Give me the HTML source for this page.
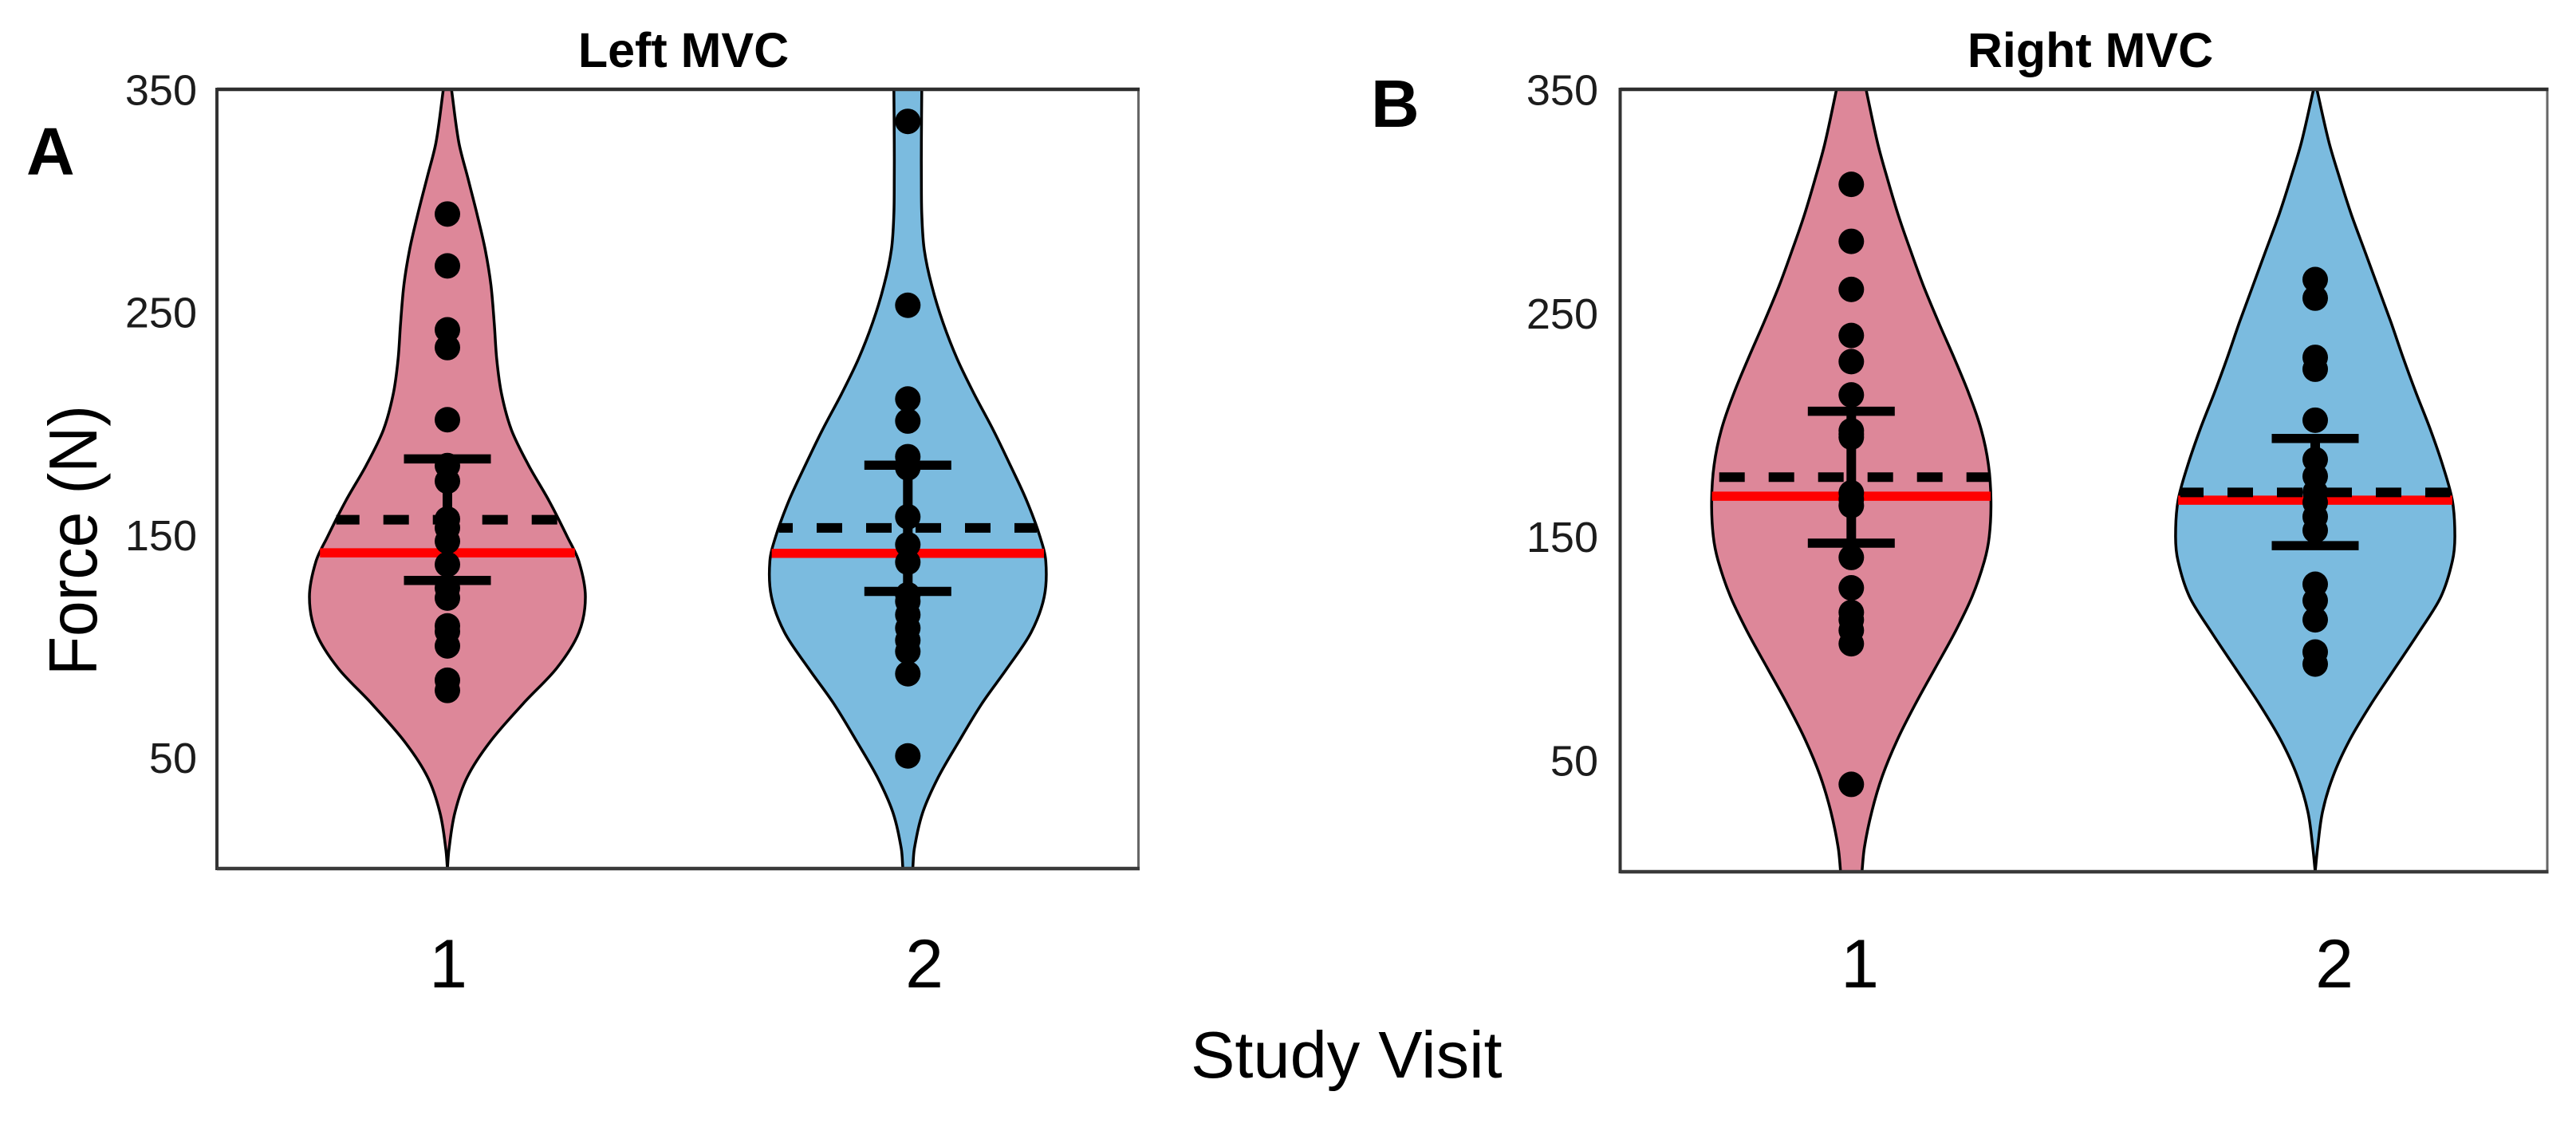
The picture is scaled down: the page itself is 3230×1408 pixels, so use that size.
<!DOCTYPE html>
<html lang="en">
<head>
<meta charset="utf-8">
<title>Left and Right MVC violin plots</title>
<style>
html,body{margin:0;padding:0;background:#fff;width:3230px;height:1408px;overflow:hidden}
svg{display:block}
text{font-family:"Liberation Sans",Arial,sans-serif;fill:#000}
</style>
</head>
<body>
<svg id="chart" width="3230" height="1408" viewBox="0 0 3230 1408" xmlns="http://www.w3.org/2000/svg">
<rect x="0" y="0" width="3230" height="1408" fill="#ffffff"/>
<text x="857" y="84" font-size="61" font-weight="bold" text-anchor="middle">Left MVC</text>
<text x="2621" y="84" font-size="61" font-weight="bold" text-anchor="middle">Right MVC</text>
<text x="33" y="219" font-size="84" font-weight="bold">A</text>
<text x="1719" y="159" font-size="84" font-weight="bold">B</text>
<text transform="translate(121 847) rotate(-90)" x="0" y="0" font-size="85" textLength="339" lengthAdjust="spacingAndGlyphs">Force (N)</text>
<text x="1493" y="1351" font-size="83">Study Visit</text>
</svg>
<script>
// Axis ticks and categories
const yTicks = [50, 150, 250, 350];
const visitLabels = ["1", "2"];

// Force levels (N) at which each violin's density was read
const leftForceGrid = [350,326,310,294,278,262,245,229,213,197,181,165,149,138,122,106,90,74,57,41,25,9,0];
const rightForceGrid = [350,326,310,294,278,262,246,230,214,198,182,166,150,139,123,107,91,75,59,43,27,11,0];

// Relative density (half-width) per visit
const leftVisit1Density = [5,14,25,36,46,53,57,60,66,78,99,124,146,160,168,160,133,92,52,24,9,2,0];
const leftVisit2Density = [17,16.5,16.5,17,20,29,43,60,81,104,125,145,161,168,166,150,121,90,62,37,18,8,6];
const rightVisit1Density = [18,32,44,57,72,88,106,125,143,158,167,170,168,162,147,126,102,78,56,38,25,16,13];
const rightVisit2Density = [2,17,30,44,60,76,92,107,123,140,155,167,170,167,153,126,97,68,42,22,9,3,0];

// Individual participant force values (N)
const leftVisit1Points = [294,270.7,242,234,201.6,181,174,157,153,147,136.6,126,121.5,109,106.5,100,84.6,80];
const leftVisit2Points = [335.6,253,210.9,201,185,180,158,145.5,137.6,123,120,114,108,102.5,97.5,87.5,50.6];
const rightVisit1Points = [307.5,282,260.5,239.9,228.2,213.3,197.3,195.8,194.4,169.5,166.6,163.8,140.6,127,116,112.7,108,102,39.1];
const rightVisit2Points = [264.9,256.6,230.1,224.8,202,184.4,176.9,169.8,165.2,158.8,152.7,128.6,121.3,112.7,98.3,92.9];

// Summary statistics: [visit 1, visit 2]
const leftMeans = [156.7, 153];
const leftMedians = [141.8, 141.6];
const leftSdUpper = [184, 181.2];
const leftSdLower = [129.4, 124.5];
const rightMeans = [176.5, 169.7];
const rightMedians = [168, 166.2];
const rightSdUpper = [206, 193.8];
const rightSdLower = [147, 145.9];

const NS = "http://www.w3.org/2000/svg";
const svg = document.getElementById("chart");

function make(tag, attrs, parent) {
  const el = document.createElementNS(NS, tag);
  for (const k in attrs) el.setAttribute(k, attrs[k]);
  (parent || svg).appendChild(el);
  return el;
}

// Hermite curve through points, with x treated as a function of y
function smoothPath(pts) {
  const n = pts.length;
  const slope = i => {
    const a = pts[Math.max(i - 1, 0)], b = pts[Math.min(i + 1, n - 1)];
    return (b[0] - a[0]) / (b[1] - a[1]);
  };
  let d = "";
  for (let i = 0; i < n - 1; i++) {
    const p1 = pts[i], p2 = pts[i + 1], h = (p2[1] - p1[1]) / 3;
    const c1x = p1[0] + slope(i) * h, c1y = p1[1] + h;
    const c2x = p2[0] - slope(i + 1) * h, c2y = p2[1] - h;
    d += " C" + c1x.toFixed(1) + " " + c1y.toFixed(1) + " " + c2x.toFixed(1) + " " + c2y.toFixed(1) + " " + p2[0].toFixed(1) + " " + p2[1].toFixed(1);
  }
  return d;
}

function widthAt(force, grid, density) {
  for (let i = 0; i < grid.length - 1; i++) {
    if (force <= grid[i] && force >= grid[i + 1]) {
      const t = (grid[i] - force) / (grid[i] - grid[i + 1]);
      return density[i] + t * (density[i + 1] - density[i]);
    }
  }
  return 0;
}

const densityPx = 1.03;

function drawViolin(panel, frame, opts) {
  const y = v => frame.bottom - v * (frame.bottom - frame.top) / 350;
  const g = make("g", {});
  
  

  const rightSide = opts.grid.map((v, i) => [opts.cx + opts.density[i] * densityPx, y(v)]);
  const leftSide = opts.grid.map((v, i) => [opts.cx - opts.density[i] * densityPx, y(v)]).reverse();
  const d = "M" + rightSide[0][0].toFixed(1) + " " + rightSide[0][1].toFixed(1) + smoothPath(rightSide) +
    " L" + leftSide[0][0].toFixed(1) + " " + leftSide[0][1].toFixed(1) + smoothPath(leftSide) + " Z";
  const body = make("path", { d: d, fill: opts.color, stroke: "#000", "stroke-width": 3.5, "stroke-linejoin": "round" }, g);
  
  

  const medW = widthAt(opts.median, opts.grid, opts.density) * densityPx;
  const medianLine = make("line", { x1: opts.cx - medW, x2: opts.cx + medW, y1: y(opts.median), y2: y(opts.median), stroke: "#ff0000", "stroke-width": 11.5 }, g);
  
  

  const meanW = widthAt(opts.mean, opts.grid, opts.density) * densityPx;
  const meanStart = opts.cx - meanW;
  const meanLine = make("line", { x1: meanStart, x2: opts.cx + meanW, y1: y(opts.mean), y2: y(opts.mean), stroke: "#000", "stroke-width": 12, "stroke-dasharray": "32 30", "stroke-dashoffset": meanStart - opts.dashAnchor }, g);
  
  

  const whisker = make("line", { x1: opts.cx, x2: opts.cx, y1: y(opts.upper), y2: y(opts.lower), stroke: "#000", "stroke-width": 12 }, g);
  
  

  [opts.upper, opts.lower].forEach(v => {
    const cap = make("line", { x1: opts.cx - 54.5, x2: opts.cx + 54.5, y1: y(v), y2: y(v), stroke: "#000", "stroke-width": 11.5 }, g);
    
    
  });

  opts.points.forEach(v => {
    const dot = make("circle", { cx: opts.cx, cy: y(v), r: 16, fill: "#000" }, g);
    
    
  });
}

function drawAxes(panel, frame, tickRight, labelXs) {
  const y = v => frame.bottom - v * (frame.bottom - frame.top) / 350;
  const g = make("g", {});
  
  

  const rightEdge = make("line", { x1: frame.right, x2: frame.right, y1: frame.top, y2: frame.bottom, stroke: "#666", "stroke-width": 3 }, g);
  
  
  const leftEdge = make("line", { x1: frame.left, x2: frame.left, y1: frame.top - 2, y2: frame.bottom + 2, stroke: "#333", "stroke-width": 4 }, g);
  
  
  const topEdge = make("line", { x1: frame.left, x2: frame.right + 1.5, y1: frame.top, y2: frame.top, stroke: "#2e2e2e", "stroke-width": 4.5 }, g);
  
  
  const bottomEdge = make("line", { x1: frame.left, x2: frame.right + 1.5, y1: frame.bottom, y2: frame.bottom, stroke: "#3a3a3a", "stroke-width": 4.5 }, g);
  
  

  yTicks.forEach(v => {
    const t = make("text", { x: tickRight, y: y(v) + 19.5, "font-size": 54, "text-anchor": "end", style: "fill:#1c1c1c" }, g);
    t.textContent = String(v);
    
    
  });

  visitLabels.forEach((label, i) => {
    const t = make("text", { x: labelXs[i], y: 1238, "font-size": 86, "text-anchor": "middle" }, g);
    t.textContent = label;
    
    
  });
}

const pink = "#dd8799";
const blue = "#7bbbdf";
const frameA = { left: 272, right: 1427.5, top: 112, bottom: 1089 };
const frameB = { left: 2031.5, right: 3194, top: 112, bottom: 1093 };

drawViolin("panel-a", frameA, { label: visitLabels[0], cx: 561, color: pink, grid: leftForceGrid, density: leftVisit1Density, points: leftVisit1Points, mean: leftMeans[0], median: leftMedians[0], upper: leftSdUpper[0], lower: leftSdLower[0], dashAnchor: 418.7 });
drawViolin("panel-a", frameA, { label: visitLabels[1], cx: 1138.3, color: blue, grid: leftForceGrid, density: leftVisit2Density, points: leftVisit2Points, mean: leftMeans[1], median: leftMedians[1], upper: leftSdUpper[1], lower: leftSdLower[1], dashAnchor: 962 });
drawViolin("panel-b", frameB, { label: visitLabels[0], cx: 2321.3, color: pink, grid: rightForceGrid, density: rightVisit1Density, points: rightVisit1Points, mean: rightMeans[0], median: rightMedians[0], upper: rightSdUpper[0], lower: rightSdLower[0], dashAnchor: 2155.7 });
drawViolin("panel-b", frameB, { label: visitLabels[1], cx: 2903, color: blue, grid: rightForceGrid, density: rightVisit2Density, points: rightVisit2Points, mean: rightMeans[1], median: rightMedians[1], upper: rightSdUpper[1], lower: rightSdLower[1], dashAnchor: 2731 });

drawAxes("panel-a", frameA, 247, [562, 1159]);
drawAxes("panel-b", frameB, 2004, [2332, 2927]);
</script>
</body>
</html>
